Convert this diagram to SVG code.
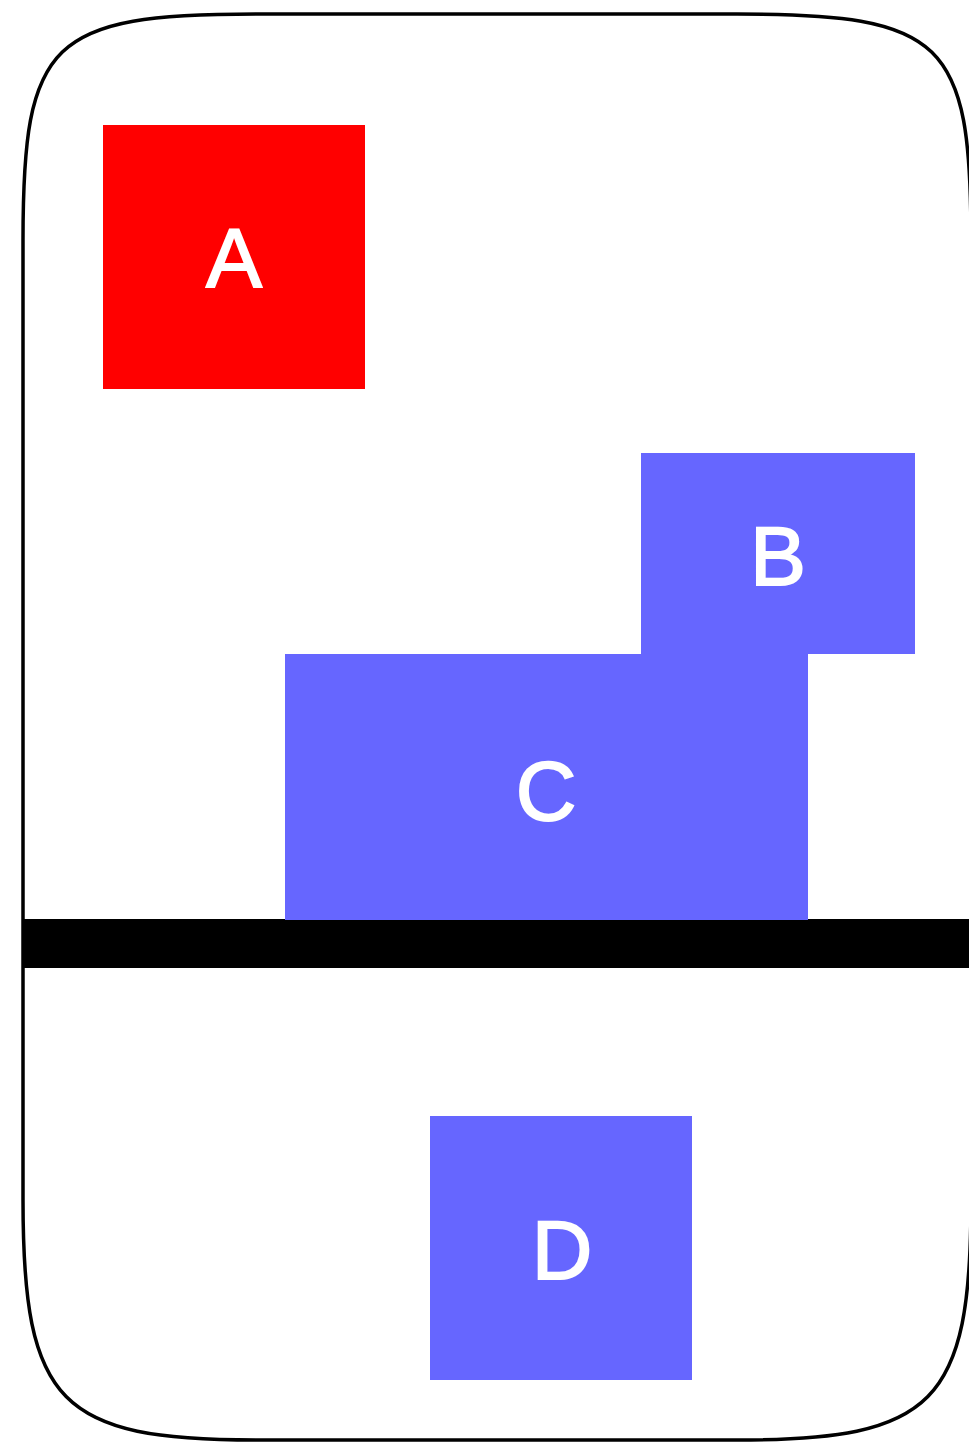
<svg xmlns="http://www.w3.org/2000/svg" width="969" height="1443" viewBox="0 0 969 1443">
<style>
.lbl{font-family:"Liberation Sans",Arial,sans-serif;font-size:84px;fill:#FFFFFF;stroke:#FFFFFF;stroke-width:1.8;text-anchor:middle}
.blue{fill:#6666FF}
.red{fill:#FF0000}
</style>
<rect x="0" y="0" width="969" height="1443" fill="#FFFFFF"/>
<g id="frame">
<path d="M 23,240 C 23,40 50,14 257,14 L 737,14 C 944,14 971,40 971,240 L 971,1200 C 971,1404 934,1440 737,1440 L 257,1440 C 60,1440 23,1404 23,1200 Z" fill="none" stroke="#000000" stroke-width="3.5"/>
<rect x="22" y="919" width="950" height="49" fill="#000000"/>
</g>
<g id="connectors"></g>
<g id="node-A">
<rect class="red" x="103" y="125" width="262" height="264"/>
<text class="lbl" x="234" y="287">A</text>
</g>
<g id="node-B">
<rect class="blue" x="641" y="453" width="274" height="201"/>
<text class="lbl" x="778" y="585">B</text>
</g>
<g id="node-C">
<rect class="blue" x="285" y="654" width="523" height="266"/>
<text class="lbl" x="546" y="820">C</text>
</g>
<g id="node-D">
<rect class="blue" x="430" y="1116" width="262" height="264"/>
<text class="lbl" x="562" y="1279">D</text>
</g>
</svg>
